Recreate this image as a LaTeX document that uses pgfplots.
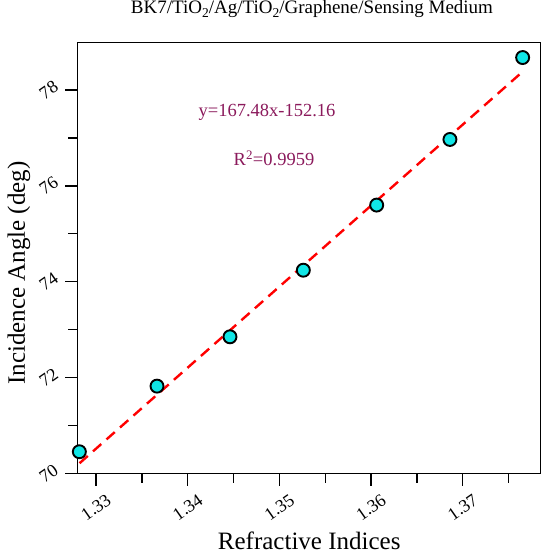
\documentclass[border=0pt]{standalone}
\usepackage{fontspec}
\setmainfont{Liberation Serif}
\usepackage{pgfplots}
\pgfplotsset{compat=1.18}
\definecolor{annot}{HTML}{8B1A5C}
\definecolor{mk}{HTML}{10E6E6}
\newcommand{\sub}[1]{\raisebox{-0.45ex}{\fontsize{13.5}{13.5}\selectfont #1}}
\begin{document}
\begin{tikzpicture}
\useasboundingbox (-77.7pt,-79.7pt) rectangle (472.3pt,473.3pt);
\begin{axis}[
  at={(0pt,0pt)}, anchor=south west,
  scale only axis,
  width=463pt, height=430.6pt,
  xmin=1.328, xmax=1.3785,
  ymin=70, ymax=78.99,
  xtick={1.33,1.34,1.35,1.36,1.37},
  minor xtick={1.335,1.345,1.355,1.365,1.375},
  ytick={70,72,74,76,78},
  minor ytick={71,73,75,77},
  xticklabels={1.33,1.34,1.35,1.36,1.37},
  yticklabels={70,72,74,76,78},
  tick align=outside,
  major tick length=12.5pt, minor tick length=9.5pt,
  tick style={black, line width=1.3pt},
  axis line style={line width=1.4pt},
  xtick pos=bottom, ytick pos=left,
  x tick label style={anchor=center, yshift=-21.5pt, rotate=35, font=\fontsize{18}{18}\selectfont},
  y tick label style={anchor=center, xshift=-16.5pt, rotate=35, font=\fontsize{18}{18}\selectfont},
  xlabel={Refractive Indices},
  ylabel={Incidence Angle (deg)},
  label style={font=\fontsize{25}{25}\selectfont},
  xlabel style={at={(axis description cs:0.5,-0.176)}, anchor=base, inner sep=0pt},
  ylabel style={at={(axis description cs:-0.127,0.465)}, anchor=center},
  title={BK7/TiO\sub{2}/Ag/TiO\sub{2}/Graphene/Sensing Medium},
  title style={font=\fontsize{19}{19}\selectfont, at={(axis description cs:0.506,1.064)}, anchor=center},
  clip=false,
]
\addplot[red, line width=2.4pt, dash pattern=on 11pt off 7pt] coordinates {(1.3282,70.21) (1.3765,78.38)};
\addplot[only marks, mark=*, mark size=6.5pt, mark options={fill=mk, draw=black, line width=1.9pt}] coordinates {
(1.32818,70.45) (1.33665,71.82) (1.34461,72.85) (1.35261,74.24) (1.36061,75.60) (1.36860,76.97) (1.37653,78.68)};
\node[annot, font=\fontsize{18.5}{18.5}\selectfont] at (axis cs:1.34865,77.54) {y=167.48x-152.16};
\node[annot, font=\fontsize{18.5}{18.5}\selectfont] at (axis cs:1.34941,76.58) {R\textsuperscript{2}=0.9959};
\end{axis}
\end{tikzpicture}
\end{document}
